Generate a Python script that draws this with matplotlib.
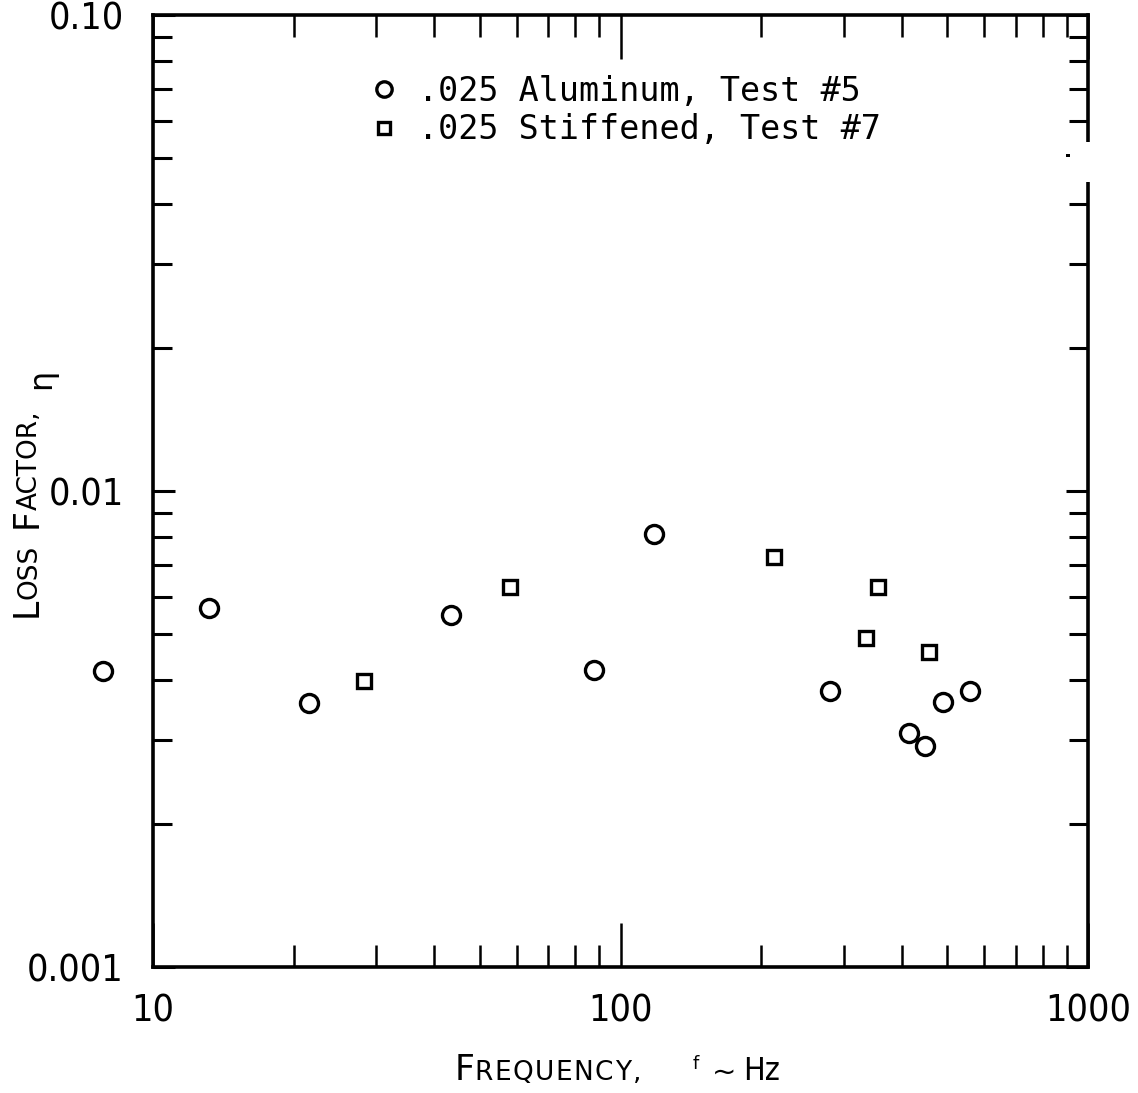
import matplotlib
matplotlib.use("Agg")
import matplotlib.pyplot as plt
from matplotlib.ticker import FixedLocator, NullFormatter
from matplotlib.patches import Rectangle

# ---- data ----
alum_freq = [7.8, 13.2, 21.6, 43.4, 87.8, 118, 281, 414, 448, 490, 559]
alum_eta = [0.00419, 0.00568, 0.00359, 0.00549, 0.00421, 0.00812, 0.00380,
            0.00310, 0.00291, 0.00361, 0.00380]
stiff_freq = [28.3, 58.0, 213, 335, 356, 457]
stiff_eta = [0.00399, 0.00628, 0.00727, 0.00491, 0.00628, 0.00459]

legend_labels = [".025 Aluminum, Test #5", ".025 Stiffened, Test #7"]
x_major = [10, 100, 1000]
x_major_labels = ["10", "100", "1000"]
y_major = [0.001, 0.01, 0.1]
y_major_labels = ["0.001", "0.01", "0.10"]

W, H = 1138, 1093
fig = plt.figure(figsize=(W / 100, H / 100), dpi=100)
L, R, T, B = 153, 1088, 15, 967
ax = fig.add_axes([L / W, 1 - B / H, (R - L) / W, (B - T) / H])

ax.set_xscale("log")
ax.set_yscale("log")
ax.set_xlim(10, 1000)
ax.set_ylim(0.001, 0.1)

ax.plot(alum_freq, alum_eta, linestyle="none", marker="o", markersize=13,
        markerfacecolor="none", markeredgecolor="black", markeredgewidth=2.4,
        clip_on=False, label=legend_labels[0])
ax.plot(stiff_freq, stiff_eta, linestyle="none", marker="s", markersize=9.5,
        markerfacecolor="none", markeredgecolor="black", markeredgewidth=2.4,
        clip_on=False, label=legend_labels[1])

for s in ax.spines.values():
    s.set_linewidth(2.6)

tickfont = dict(family="DejaVu Sans", stretch="condensed", size=27)
ax.xaxis.set_major_locator(FixedLocator(x_major))
ax.yaxis.set_major_locator(FixedLocator(y_major))
ax.set_xticklabels(x_major_labels, fontdict=tickfont)
ax.set_yticklabels(y_major_labels, fontdict=tickfont)
ax.xaxis.set_minor_formatter(NullFormatter())
ax.yaxis.set_minor_formatter(NullFormatter())

ax.tick_params(axis="x", which="major", direction="in", length=32, width=1.8,
               top=True, bottom=True, pad=19)
ax.tick_params(axis="x", which="minor", direction="in", length=16, width=1.8,
               top=True, bottom=True)
ax.tick_params(axis="y", which="major", direction="in", length=16, width=2.2,
               left=True, right=True, pad=21)
ax.tick_params(axis="y", which="minor", direction="in", length=14, width=2.2,
               left=True, right=True)

leg = ax.legend(loc="upper left", bbox_to_anchor=(374 / W, 1 - 75 / H),
                bbox_transform=fig.transFigure, frameon=False,
                prop=dict(family="DejaVu Sans Mono", size=24),
                handlelength=0.6, handletextpad=0.72, labelspacing=0.16,
                borderpad=0, borderaxespad=0, markerscale=0.85)

# scan gap in the right frame line
fig.add_artist(Rectangle(((R - 40) / W, 1 - 182 / H), 50 / W, 40 / H,
                         transform=fig.transFigure, facecolor="white",
                         edgecolor="none", zorder=10))
fig.add_artist(Rectangle(((R - 22) / W, 1 - 157 / H), 4 / W, 3 / H,
                         transform=fig.transFigure, facecolor="black",
                         edgecolor="none", zorder=11))

# ---- small-caps axis labels built from pieces ----
fig.canvas.draw()
renderer = fig.canvas.get_renderer()


def smallcaps(x, y, parts, rotation=0):
    for text, size, gap, track, fam in parts:
        chars = list(text) if track else [text]
        for ch in chars:
            t = fig.text(x / W, 1 - y / H, ch, fontsize=size, rotation=rotation,
                         rotation_mode="anchor", ha="left", va="baseline",
                         **fam)
            bb = t.get_window_extent(renderer)
            step = (bb.width if rotation == 0 else bb.height) + track
            if rotation == 0:
                x += step
            else:
                y -= step
        if rotation == 0:
            x += gap
        else:
            y -= gap


N = dict(family="DejaVu Sans")
C = dict(family="DejaVu Sans", stretch="condensed")

# x label: "FREQUENCY, f ~ Hz"
smallcaps(455, 1080, [("F", 25, -1, 0, N), ("REQUENCY,", 19, 0, 1.6, N)])
smallcaps(693, 1069, [("f", 13, 0, 0, N)])
smallcaps(712, 1081, [("~", 21, 0, 0, N)])
smallcaps(743, 1080, [("Hz", 23, 0, 0, C)])

# y label: "LOSS FACTOR, η"
smallcaps(37, 617, [("L", 25, -1, 0, N), ("OSS", 19, 16, 0, N),
                    ("F", 25, -1, 0, N), ("ACTOR,", 19, 0, 0, N)], rotation=90)
smallcaps(50, 389, [("η", 23, 0, 0, N)], rotation=90)

fig.savefig("out.png", dpi=100)
